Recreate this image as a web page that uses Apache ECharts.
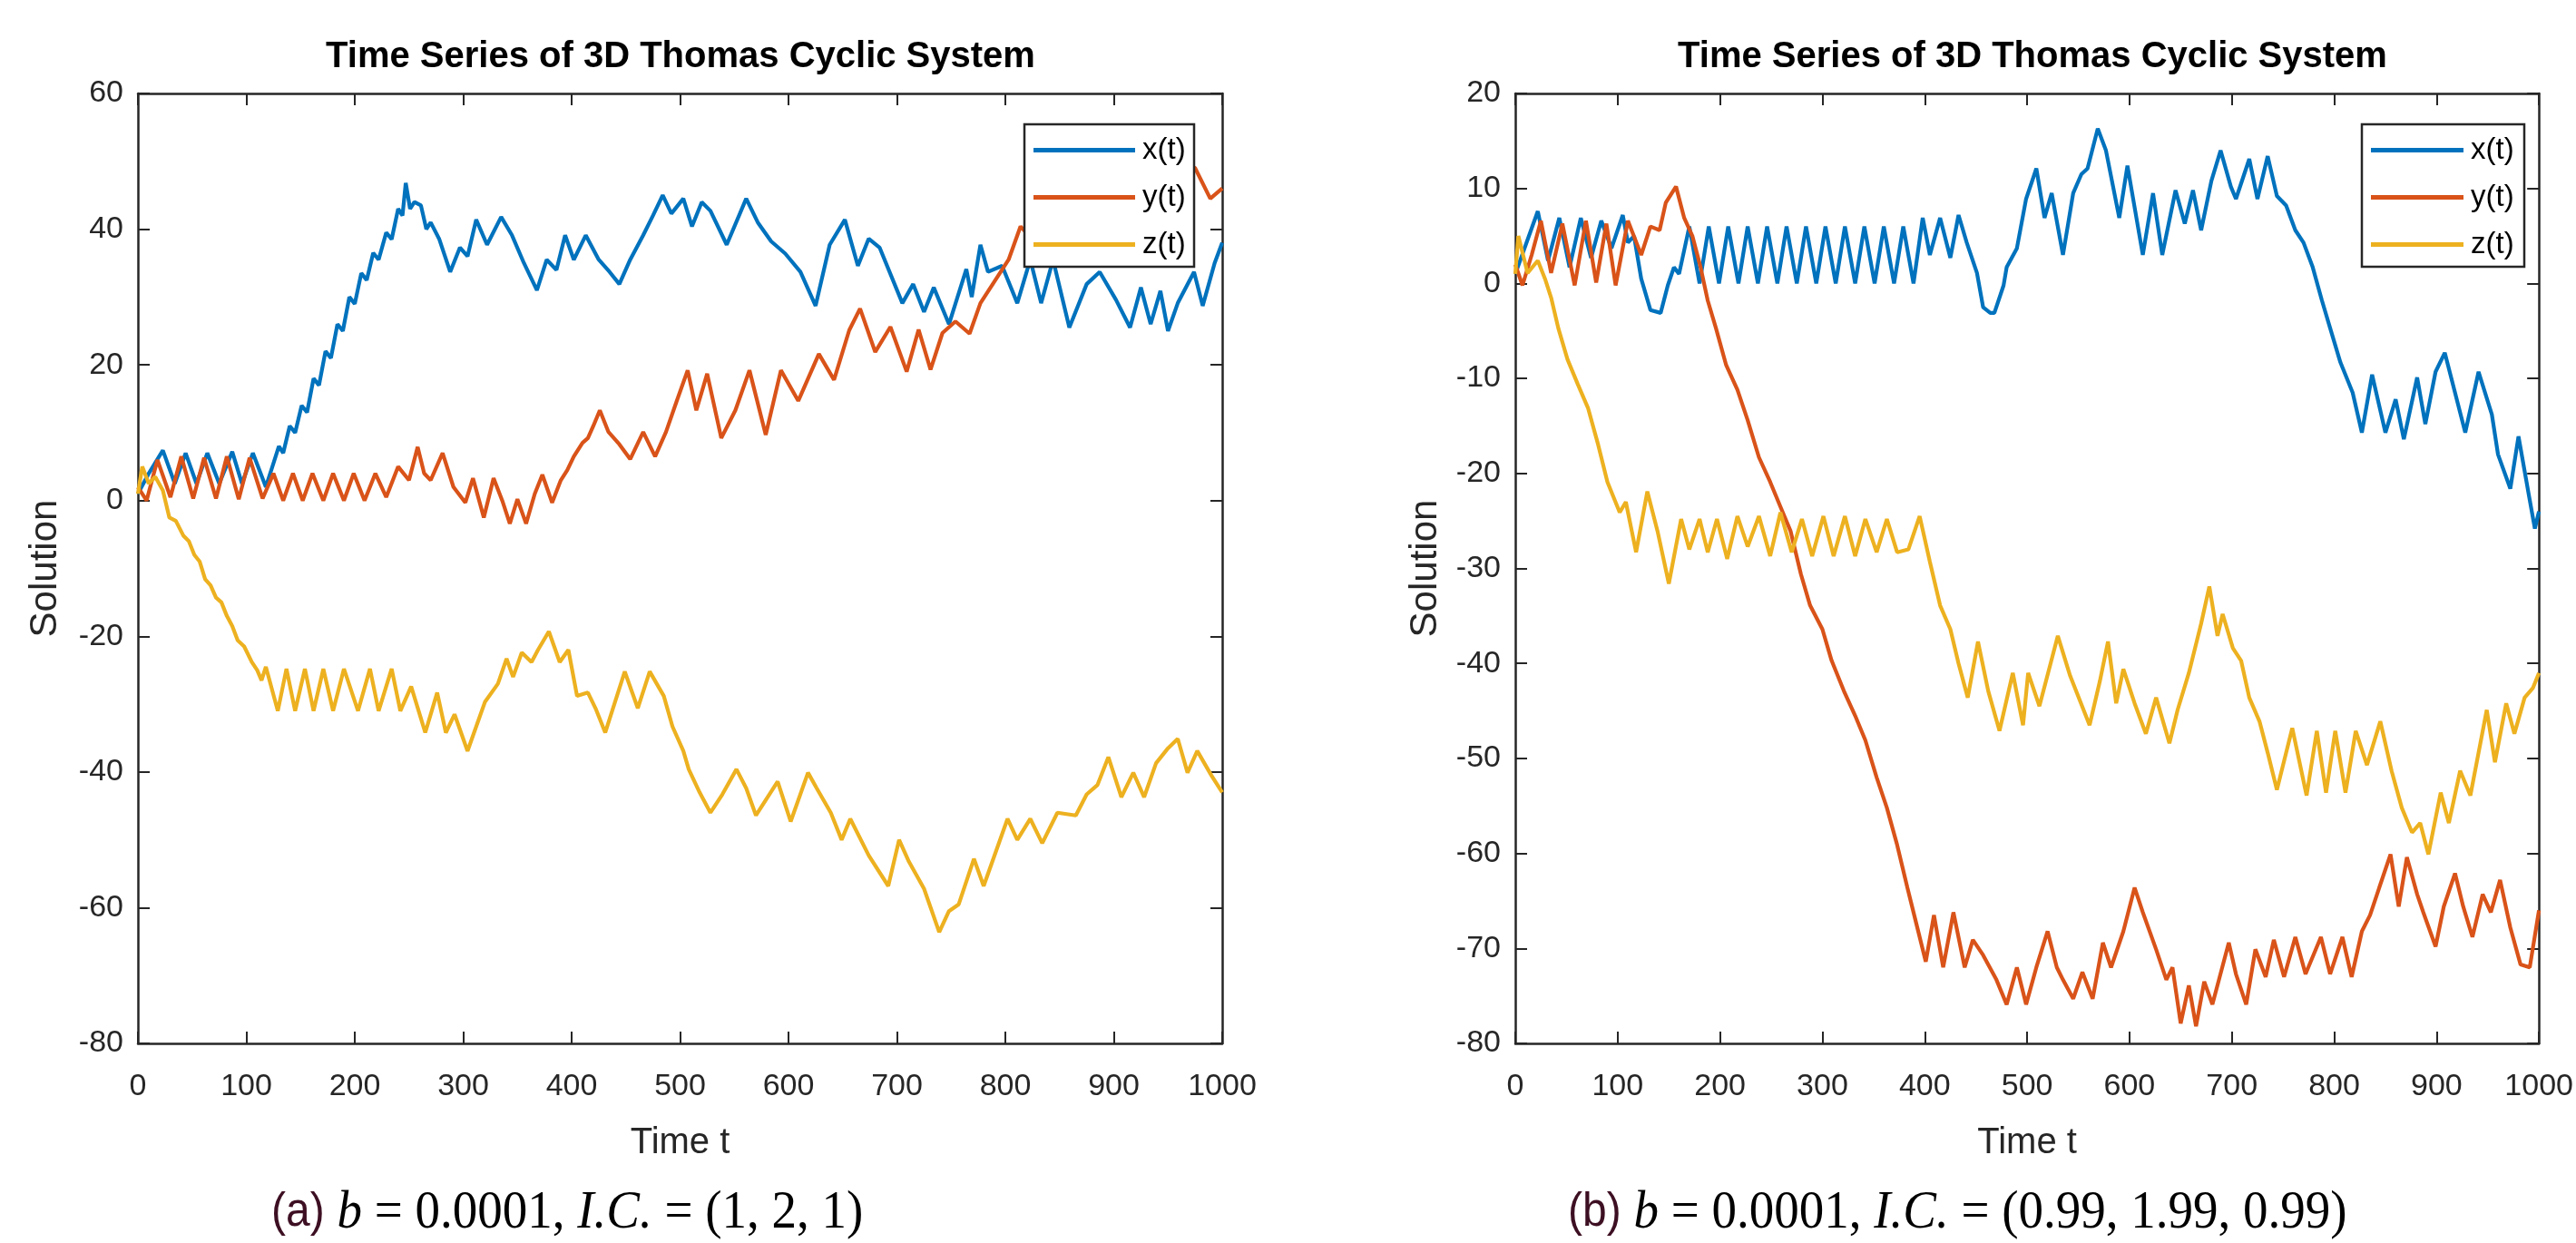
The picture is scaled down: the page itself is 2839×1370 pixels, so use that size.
<!DOCTYPE html>
<html>
<head>
<meta charset="utf-8">
<title>Time Series of 3D Thomas Cyclic System</title>
<script src="https://cdn.jsdelivr.net/npm/echarts@6/dist/echarts.min.js"></script>
<style>
  html, body { margin: 0; padding: 0; background: #fff; }
  #main { width: 2839px; height: 1370px; }
</style>
</head>
<body>
<div id="main"></div>
<script>
// series as [t, value] points (peaks / troughs of the zigzags)
// panel (a): b = 0.0001, I.C. = (1, 2, 1)
const xA = [[0,1],[10,4],[23,7.4],[34,2.5],[44,7],[54,2.5],[64,7],[75,2.5],[87,7.2],[96,2.5],[106,7],[118,2],
  [124,5],[130,8],[134,7],[140,11],[145,10],[151,14],[156,13],[162,18],[167,17],[173,22],[178,21],[184,26],
  [189,25],[195,30],[200,29],[206,33.5],[211,32.5],[217,36.5],[222,35.5],[229,39.5],[234,38.5],[240,43],
  [244,42],[247,46.8],[251,43],[255,44],[261,43.5],[266,40],[270,41],[278,38.5],[288,33.7],[297,37.3],
  [304,36],[312,41.4],[322,37.7],[335,41.8],[345,39.1],[356,35],[368,31],[377,35.5],[386,34],[394,39.1],
  [402,35.5],[413,39.1],[425,35.5],[435,33.7],[444,31.9],[454,35.5],[466,39.1],[475,42],[484,45],[492,42.3],
  [503,44.5],[511,40.4],[520,44],[528,42.7],[543,37.7],[561,44.5],[572,40.9],[584,38.2],[597,36.4],[611,33.7],
  [625,28.7],[638,37.7],[652,41.4],[664,34.6],[674,38.6],[684,37.3],[705,29.1],[715,31.9],[725,27.8],
  [734,31.4],[748,26],[764,34.1],[769,30],[777,37.7],[784,33.7],[797,34.6],[811,29.1],[823,35.5],[833,29.1],
  [844,35.5],[859,25.5],[875,31.9],[887,33.7],[902,29.6],[915,25.5],[925,31.4],[934,26],[943,30.9],[950,25],
  [959,29.1],[974,33.7],[982,28.7],[993,35],[1000,38]];
const yA = [[0,2],[8,0],[18,6],[30,0.5],[40,6.5],[51,0.3],[61,6.3],[72,0.3],[82,6.5],[93,0.2],[103,6.3],
  [115,0.3],[125,4],[134,0],[143,4],[152,0],[161,4],[171,0],[180,4],[190,0],[199,4],[209,0],[219,4],[229,0.5],
  [240,5],[250,3],[258,7.9],[264,4],[270,3],[281,7],[291,2],[302,-0.3],[309,3.3],[319,-2.5],[328,3.3],[336,0],
  [343,-3.4],[350,0.2],[358,-3.4],[366,1],[373,3.8],[382,-0.3],[390,3],[396,4.5],[402,6.5],[410,8.5],
  [415,9.2],[420,11],[426,13.3],[434,10.1],[444,8.3],[454,6.1],[466,10.1],[477,6.5],[487,10.1],[497,14.7],
  [507,19.2],[515,13.3],[525,18.7],[538,9.2],[551,13.3],[564,19.2],[579,9.7],[593,19.2],[609,14.7],
  [628,21.6],[642,17.8],[656,25.1],[666,28.3],[680,21.9],[694,25.6],[709,19],[720,25.2],[731,19.3],
  [742,24.7],[754,26.4],[767,24.6],[777,29.1],[790,32.3],[803,35.5],[814,40.4],[828,38],[843,42.5],
  [858,39.5],[872,44],[887,41],[902,45.5],[917,43],[932,47],[947,45],[962,50],[975,49],[989,44.5],[1000,46]];
const zA = [[0,1],[4,5],[10,2.5],[16,3.5],[23,1.5],[29,-2.5],[35,-3],[42,-5.2],[47,-6],[52,-8],[57,-9],
  [62,-11.6],[67,-12.5],[72,-14.3],[77,-15],[82,-17],[87,-18.5],[92,-20.6],[98,-21.5],[105,-23.8],[110,-25],
  [114,-26.5],[118,-24.5],[129,-31],[137,-24.8],[145,-31],[154,-24.8],[162,-31],[171,-24.8],[180,-31],
  [190,-24.8],[203,-31],[214,-24.8],[222,-31],[234,-24.8],[242,-31],[252,-27.4],[265,-34.2],[276,-28.3],
  [284,-34.2],[292,-31.5],[304,-36.9],[314,-32.4],[320,-29.7],[332,-27],[340,-23.3],[346,-26],[354,-22.4],
  [363,-23.8],[369,-22],[379,-19.3],[389,-23.8],[397,-22],[405,-28.8],[415,-28.3],[422,-30.6],[431,-34.2],
  [449,-25.2],[461,-30.6],[472,-25.2],[485,-28.8],[493,-33.3],[503,-36.9],[508,-39.6],[518,-43],[528,-46],
  [539,-43.3],[552,-39.6],[561,-42.4],[570,-46.4],[590,-41.4],[602,-47.3],[618,-40.1],[626,-42.4],
  [639,-46],[649,-50],[657,-46.9],[674,-52.3],[692,-56.8],[702,-50],[711,-53.2],[725,-57.2],[739,-63.6],
  [748,-60.5],[757,-59.5],[771,-52.8],[780,-56.8],[802,-46.9],[811,-50],[823,-46.9],[834,-50.5],[848,-46],
  [865,-46.4],[875,-43.3],[885,-41.9],[895,-37.8],[907,-43.7],[918,-40.1],[928,-43.7],[939,-38.7],
  [950,-36.5],[959,-35.1],[968,-40.1],[977,-36.9],[990,-40.5],[1000,-43]];

// panel (b): b = 0.0001, I.C. = (0.99, 1.99, 0.99)
const xB = [[0,1],[10,4],[22,7.6],[32,2.4],[43,6.9],[53,1.7],[64,6.9],[74,2.7],[84,6.6],[94,3.7],[105,7.2],
  [110,4.3],[116,5],[123,0.5],[132,-2.8],[142,-3.1],[149,-0.2],[155,1.7],[160,1],[170,6],[180,0],[189,6],
  [199,0],[208,6],[218,0],[227,6],[237,0],[246,6],[256,0],[265,6],[275,0],[284,6],[294,0],[303,6],[313,0],
  [322,6],[332,0],[341,6],[351,0],[360,6],[370,0],[379,6],[389,0],[398,6.9],[405,3],[415,6.9],[425,2.7],
  [433,7.2],[441,4.3],[451,1.1],[457,-2.5],[464,-3.1],[468,-3.1],[477,-0.2],[480,1.7],[490,3.7],[499,8.9],
  [509,12.1],[517,6.9],[524,9.5],[535,3],[545,9.5],[553,11.5],[559,12.1],[569,16.3],[577,14],[590,6.9],
  [598,12.4],[613,3],[623,9.5],[632,3],[645,9.8],[654,6.3],[662,9.8],[670,5.6],[680,10.8],[689,14],
  [699,10.2],[704,8.9],[717,13.1],[725,8.9],[735,13.4],[744,9.2],[753,8.2],[762,5.6],[770,4.3],[779,1.7],
  [788,-1.8],[796,-4.7],[806,-8.3],[818,-11.5],[827,-15.7],[837,-9.6],[850,-15.7],[860,-12.2],[868,-16.4],
  [881,-9.9],[889,-14.8],[899,-9.3],[908,-7.3],[918,-11.5],[928,-15.7],[941,-9.3],[954,-13.8],[960,-18],
  [972,-21.6],[980,-16.1],[990,-22.2],[996,-25.8],[1000,-24]];
const yB = [[0,2],[7,-0.2],[16,3],[25,6.6],[35,1.1],[46,6.3],[58,-0.2],[69,6.6],[79,0.1],[89,6.3],[98,-0.2],
  [110,6.6],[123,3],[132,6],[141,5.6],[147,8.5],[157,10.2],[165,6.9],[173,5],[181,1.7],[188,-1.8],
  [196,-4.7],[206,-8.6],[217,-11.2],[227,-14.4],[238,-18.3],[249,-20.9],[259,-23.5],[269,-26.1],
  [279,-30.6],[288,-33.9],[300,-36.4],[309,-39.7],[321,-42.9],[332,-45.5],[342,-48.1],[353,-52],
  [363,-55.2],[373,-59.1],[383,-63.6],[392,-67.5],[401,-71.4],[409,-66.5],[418,-72],[428,-66.2],[439,-72],
  [447,-69.1],[457,-70.7],[470,-73.3],[480,-75.9],[490,-72],[499,-75.9],[509,-72],[520,-68.2],[529,-72],
  [535,-73.3],[545,-75.3],[554,-72.5],[564,-75.3],[574,-69.4],[582,-72],[594,-68.2],[605,-63.6],
  [613,-66.2],[626,-70.1],[636,-73.3],[642,-72],[650,-77.9],[658,-73.9],[665,-78.2],[673,-73.5],
  [681,-75.9],[697,-69.4],[704,-72.7],[714,-75.9],[723,-70.1],[733,-73],[741,-69.1],[751,-73],[762,-68.8],
  [772,-72.7],[787,-68.8],[796,-72.7],[808,-68.8],[817,-73],[827,-68.2],[835,-66.5],[844,-63.6],
  [855,-60.1],[863,-65.6],[871,-60.4],[881,-64.3],[887,-66.2],[899,-69.8],[907,-65.6],[918,-62.1],
  [926,-65.6],[935,-68.8],[945,-64.3],[953,-66.2],[962,-62.8],[972,-67.8],[982,-71.7],[991,-72],[1000,-66]];
const zB = [[0,1],[3,5],[12,1.1],[22,2.4],[29,0.5],[35,-1.5],[42,-4.7],[51,-8],[61,-10.6],[71,-13.1],
  [81,-17],[90,-20.9],[102,-24.1],[108,-23],[118,-28.3],[129,-21.9],[139,-26.1],[150,-31.6],[162,-24.8],
  [170,-28],[180,-24.8],[188,-28.3],[197,-24.8],[207,-29],[217,-24.5],[227,-27.7],[238,-24.5],[249,-28.7],
  [259,-24.1],[270,-28.3],[280,-24.8],[290,-28.7],[301,-24.5],[311,-28.7],[322,-24.5],[332,-28.7],
  [342,-24.8],[353,-28.3],[363,-24.8],[373,-28.3],[384,-28],[395,-24.5],[405,-29.3],[415,-33.9],
  [425,-36.4],[433,-40],[442,-43.6],[452,-37.7],[462,-42.9],[473,-47.1],[486,-41],[496,-46.5],[501,-41],
  [512,-44.5],[530,-37.1],[542,-41.3],[561,-46.5],[571,-41.9],[579,-37.7],[587,-44.2],[594,-40.6],
  [605,-44.2],[616,-47.4],[626,-43.6],[639,-48.4],[647,-44.9],[658,-41],[670,-35.8],[678,-31.9],
  [686,-37.1],[691,-34.8],[701,-38.4],[709,-39.7],[717,-43.6],[727,-46.1],[735,-49.4],[744,-53.3],
  [759,-46.8],[773,-53.9],[783,-47.1],[792,-53.6],[801,-47.1],[811,-53.6],[821,-47.1],[832,-50.7],
  [845,-46.1],[856,-51.3],[866,-55.2],[876,-57.8],[884,-56.8],[892,-60.1],[904,-53.6],[912,-56.8],
  [923,-51.3],[933,-53.9],[941,-49.4],[949,-44.9],[957,-50.4],[968,-44.2],[976,-47.4],[986,-43.6],
  [994,-42.6],[1000,-41]];

const names = ['x(t)', 'y(t)', 'z(t)'];
const colors = ['#0072BD', '#D95319', '#EDB120'];
const xTicks = { min: 0, max: 1000, interval: 100 };
const yTicksA = { min: -80, max: 60, interval: 20 };
const yTicksB = { min: -80, max: 20, interval: 10 };

const AX = '#262626';
const SANS = '"Liberation Sans", Arial, sans-serif';
const SERIF = '"Liberation Serif", serif';

var chart = echarts.init(document.getElementById('main'), null, { renderer: 'canvas' });

function plainNum(v) { return String(v); }

function xAxisPair(g) {
  var base = {
    type: 'value', gridIndex: g, min: xTicks.min, max: xTicks.max, interval: xTicks.interval,
    axisLine: { onZero: false, lineStyle: { color: AX, width: 2.5 } },
    axisTick: { inside: true, length: 13, lineStyle: { color: AX, width: 2 } },
    splitLine: { show: false }
  };
  var bottom = Object.assign({}, base, {
    position: 'bottom',
    axisLabel: { margin: 31, fontSize: 34, color: AX, fontFamily: SANS, formatter: plainNum },
    name: 'Time t', nameLocation: 'middle', nameGap: 90,
    nameTextStyle: { fontSize: 40, color: AX, fontFamily: SANS }
  });
  var top = Object.assign({}, base, { position: 'top', axisLabel: { show: false } });
  return [bottom, top];
}

function yAxisPair(g, ticks, gap) {
  var base = {
    type: 'value', gridIndex: g, min: ticks.min, max: ticks.max, interval: ticks.interval,
    axisLine: { onZero: false, lineStyle: { color: AX, width: 2.5 } },
    axisTick: { inside: true, length: 13, lineStyle: { color: AX, width: 2 } },
    splitLine: { show: false }
  };
  var left = Object.assign({}, base, {
    position: 'left',
    axisLabel: { margin: 16, fontSize: 34, color: AX, fontFamily: SANS, formatter: plainNum },
    name: 'Solution', nameLocation: 'middle', nameGap: gap, nameRotate: 90,
    nameTextStyle: { fontSize: 42, color: AX, fontFamily: SANS }
  });
  var right = Object.assign({}, base, { position: 'right', axisLabel: { show: false } });
  return [left, right];
}

function lines(sets, axisIdx) {
  return sets.map(function (pts, i) {
    return {
      name: names[i], type: 'line', xAxisIndex: axisIdx, yAxisIndex: axisIdx,
      data: pts, showSymbol: false, symbol: 'none', clip: true,
      lineStyle: { width: 4.2, color: colors[i] }, itemStyle: { color: colors[i] }
    };
  });
}

// legend entries only; the framed white box behind them is a graphic rect
function legendAt(left, itemW) {
  return {
    left: left, top: 137, orient: 'vertical', data: names, z: 10,
    backgroundColor: 'transparent', borderWidth: 0,
    padding: [12, 0, 0, 10], itemWidth: itemW, itemHeight: 5, itemGap: 19, icon: 'rect',
    textStyle: { fontSize: 33, color: '#000', fontFamily: SANS, padding: [0, 0, 0, 3] }
  };
}

function legendBox(x, w) {
  return {
    type: 'rect', z: 8, shape: { x: x, y: 137, width: w, height: 157 },
    style: { fill: '#fff', stroke: AX, lineWidth: 2.5 }
  };
}

function caption(x, tag, body) {
  return {
    type: 'text', x: x, y: 1337, scaleY: 1.08,
    style: {
      text: '{a|' + tag + '} ' + body,
      fontSize: 55, fontFamily: SERIF, fill: '#000',
      verticalAlign: 'middle', align: 'left',
      rich: {
        a: { fontFamily: SANS, fontSize: 48, fill: '#3d0f22' },
        i: { fontStyle: 'italic', fontSize: 55, fontFamily: SERIF }
      }
    }
  };
}

var xa = xAxisPair(0), xb = xAxisPair(1);
var ya = yAxisPair(0, yTicksA, 81), yb = yAxisPair(1, yTicksB, 78);

var option = {
  backgroundColor: '#fff',
  animation: false,
  grid: [
    { left: 152, top: 103, width: 1195, height: 1047, containLabel: false },
    { left: 1670, top: 103, width: 1141, height: 1047, containLabel: false }
  ],
  xAxis: [xa[0], xb[0], xa[1], xb[1]],
  yAxis: [ya[0], yb[0], ya[1], yb[1]],
  legend: [legendAt(1129, 112), legendAt(2603, 102)],
  series: lines([xA, yA, zA], 0).concat(lines([xB, yB, zB], 1)),
  graphic: [
    legendBox(1129, 187),
    legendBox(2603, 179),
    { type: 'text', x: 750, y: 63,
      style: { text: 'Time Series of 3D Thomas Cyclic System', fontSize: 40, fontWeight: 'bold',
               fontFamily: SANS, fill: '#000', align: 'center', verticalAlign: 'middle' } },
    { type: 'text', x: 2240, y: 63,
      style: { text: 'Time Series of 3D Thomas Cyclic System', fontSize: 40, fontWeight: 'bold',
               fontFamily: SANS, fill: '#000', align: 'center', verticalAlign: 'middle' } },
    caption(299, '(a)', '{i|b} = 0.0001, {i|I.C.} = (1, 2, 1)'),
    caption(1728, '(b)', '{i|b} = 0.0001, {i|I.C.} = (0.99, 1.99, 0.99)')
  ]
};

chart.setOption(option);
</script>
</body>
</html>
